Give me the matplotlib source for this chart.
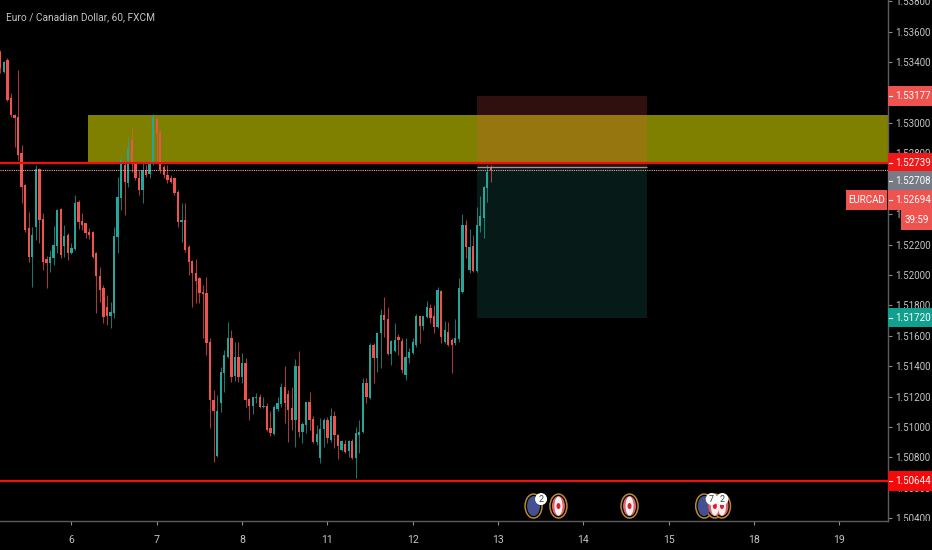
from matplotlib import pyplot as plt
from matplotlib.patches import Ellipse, Rectangle
from matplotlib.transforms import Bbox

plt.rcParams['font.family'] = ['Roboto', 'DejaVu Sans']

title = "Euro / Canadian Dollar, 60, FXCM"

opens = [
    1.53467, 1.53336, 1.53414, 1.53164, 1.53052, 1.53039, 1.52802, 1.52592, 1.52309, 1.52118,
    1.52315, 1.52697, 1.52368, 1.52105, 1.52079, 1.52112, 1.52191, 1.52434, 1.52191, 1.52263,
    1.52144, 1.52171, 1.52480, 1.52349, 1.52342, 1.52283, 1.52283, 1.52144, 1.51993, 1.51914,
    1.51789, 1.51730, 1.51750, 1.52250, 1.52507, 1.52723, 1.52605, 1.52888, 1.52737, 1.52638,
    1.52559, 1.52691, 1.52664, 1.52737, 1.53026, 1.52941, 1.52710, 1.52658, 1.52638, 1.52632,
    1.52546, 1.52349, 1.52362, 1.52184, 1.52092, 1.52013, 1.51974, 1.51888, 1.51881, 1.51559,
    1.51177, 1.50809, 1.51158, 1.51355, 1.51460, 1.51585, 1.51335, 1.51460, 1.51329, 1.51421,
    1.51184, 1.51138, 1.51190, 1.51197, 1.51131, 1.51138, 1.50993, 1.50953, 1.51118, 1.51151,
    1.51263, 1.51217, 1.51125, 1.51046, 1.51401, 1.50967, 1.51013, 1.51164, 1.51052, 1.50901,
    1.50796, 1.50987, 1.51046, 1.50914, 1.51072, 1.50947, 1.50848, 1.50888, 1.50842, 1.50908,
    1.50796, 1.50947, 1.50967, 1.51289, 1.51190, 1.51539, 1.51454, 1.51618, 1.51737, 1.51710,
    1.51480, 1.51499, 1.51592, 1.51566, 1.51342, 1.51454, 1.51486, 1.51539, 1.51724, 1.51664,
    1.51724, 1.51783, 1.51724, 1.51658, 1.51895, 1.51559, 1.51625, 1.51572, 1.51552, 1.51579,
    1.51888, 1.52329, 1.52033, 1.52191, 1.52026, 1.52322, 1.52375, 1.52572, 1.52708,
]
highs = [
    1.53480, 1.53408, 1.53427, 1.53197, 1.53059, 1.53349, 1.52855, 1.52599, 1.52414, 1.52315,
    1.52723, 1.52704, 1.52408, 1.52125, 1.52164, 1.52322, 1.52434, 1.52441, 1.52329, 1.52276,
    1.52210, 1.52526, 1.52493, 1.52408, 1.52342, 1.52309, 1.52289, 1.52151, 1.52052, 1.51934,
    1.51868, 1.51822, 1.52315, 1.52645, 1.52770, 1.52750, 1.52908, 1.52967, 1.52743, 1.52691,
    1.52737, 1.52723, 1.52756, 1.53059, 1.53033, 1.52954, 1.52723, 1.52723, 1.52658, 1.52645,
    1.52559, 1.52473, 1.52473, 1.52197, 1.52098, 1.52105, 1.51987, 1.51934, 1.51987, 1.51585,
    1.51243, 1.51210, 1.51395, 1.51506, 1.51691, 1.51638, 1.51559, 1.51559, 1.51486, 1.51454,
    1.51190, 1.51197, 1.51223, 1.51217, 1.51197, 1.51158, 1.51105, 1.51144, 1.51197, 1.51289,
    1.51401, 1.51243, 1.51263, 1.51447, 1.51499, 1.51033, 1.51164, 1.51230, 1.51072, 1.51013,
    1.51059, 1.51059, 1.51066, 1.51125, 1.51105, 1.50954, 1.50914, 1.50914, 1.50914, 1.50921,
    1.50999, 1.51046, 1.51322, 1.51322, 1.51552, 1.51552, 1.51625, 1.51776, 1.51855, 1.51789,
    1.51572, 1.51684, 1.51611, 1.51585, 1.51585, 1.51519, 1.51585, 1.51743, 1.51724, 1.51724,
    1.51829, 1.51809, 1.51802, 1.51921, 1.51901, 1.51697, 1.51691, 1.51585, 1.51711, 1.51980,
    1.52401, 1.52362, 1.52302, 1.52263, 1.52447, 1.52520, 1.52585, 1.52723, 1.52723,
]
lows = [
    1.53329, 1.53329, 1.53144, 1.53039, 1.52842, 1.52756, 1.52473, 1.52283, 1.52085, 1.51921,
    1.52230, 1.52210, 1.52033, 1.51914, 1.52019, 1.52066, 1.52144, 1.52112, 1.52118, 1.52098,
    1.52138, 1.52164, 1.52302, 1.52296, 1.52243, 1.52237, 1.52112, 1.51750, 1.51822, 1.51684,
    1.51671, 1.51651, 1.51717, 1.52144, 1.52427, 1.52395, 1.52579, 1.52677, 1.52625, 1.52526,
    1.52473, 1.52645, 1.52638, 1.52723, 1.52737, 1.52671, 1.52638, 1.52605, 1.52605, 1.52526,
    1.52315, 1.52217, 1.52151, 1.52000, 1.51789, 1.51816, 1.51816, 1.51585, 1.51473, 1.50993,
    1.50769, 1.50802, 1.51099, 1.51230, 1.51454, 1.51296, 1.51302, 1.51296, 1.51289, 1.51131,
    1.51046, 1.51085, 1.51158, 1.51125, 1.51125, 1.50974, 1.50940, 1.50947, 1.51105, 1.51131,
    1.51026, 1.50901, 1.50980, 1.50868, 1.50934, 1.50894, 1.50960, 1.50980, 1.50894, 1.50881,
    1.50763, 1.50868, 1.50894, 1.50901, 1.50861, 1.50789, 1.50842, 1.50829, 1.50802, 1.50789,
    1.50664, 1.50829, 1.50960, 1.51158, 1.51184, 1.51289, 1.51362, 1.51388, 1.51592, 1.51473,
    1.51408, 1.51493, 1.51473, 1.51355, 1.51309, 1.51421, 1.51480, 1.51526, 1.51552, 1.51638,
    1.51717, 1.51684, 1.51618, 1.51651, 1.51552, 1.51552, 1.51533, 1.51355, 1.51539, 1.51559,
    1.51881, 1.52112, 1.52013, 1.52019, 1.52019, 1.52283, 1.52243, 1.52480, 1.52612,
]
closes = [
    1.53361, 1.53401, 1.53151, 1.53052, 1.53033, 1.52789, 1.52579, 1.52296, 1.52118, 1.52263,
    1.52697, 1.52362, 1.52085, 1.52079, 1.52118, 1.52197, 1.52427, 1.52131, 1.52256, 1.52144,
    1.52177, 1.52473, 1.52349, 1.52329, 1.52276, 1.52263, 1.52118, 1.51993, 1.51901, 1.51724,
    1.51730, 1.51756, 1.52256, 1.52513, 1.52756, 1.52612, 1.52835, 1.52743, 1.52638, 1.52559,
    1.52691, 1.52658, 1.52737, 1.53039, 1.52934, 1.52691, 1.52658, 1.52625, 1.52612, 1.52539,
    1.52349, 1.52362, 1.52164, 1.52085, 1.52013, 1.51960, 1.51881, 1.51875, 1.51552, 1.51177,
    1.51105, 1.51099, 1.51362, 1.51473, 1.51585, 1.51329, 1.51460, 1.51329, 1.51421, 1.51177,
    1.51138, 1.51197, 1.51197, 1.51131, 1.51138, 1.50980, 1.50960, 1.51131, 1.51158, 1.51263,
    1.51158, 1.51111, 1.51046, 1.51401, 1.50967, 1.51020, 1.51164, 1.51046, 1.50901, 1.50953,
    1.50987, 1.51046, 1.50927, 1.51072, 1.50947, 1.50875, 1.50908, 1.50835, 1.50908, 1.50796,
    1.50960, 1.50967, 1.51289, 1.51197, 1.51539, 1.51454, 1.51618, 1.51737, 1.51704, 1.51480,
    1.51566, 1.51572, 1.51572, 1.51375, 1.51460, 1.51493, 1.51559, 1.51724, 1.51664, 1.51724,
    1.51789, 1.51717, 1.51658, 1.51901, 1.51592, 1.51638, 1.51539, 1.51539, 1.51585, 1.51914,
    1.52329, 1.52184, 1.52184, 1.52026, 1.52329, 1.52382, 1.52579, 1.52677, 1.52694,
]

day_bars = [20, 44, 68, 92, 116, 140, 164, 188, 212, 236]
day_labels = ["6", "7", "8", "11", "12", "13", "14", "15", "18", "19"]
price_ticks = [1.504, 1.506, 1.508, 1.51, 1.512, 1.514, 1.516, 1.518, 1.52, 1.522,
               1.524, 1.526, 1.528, 1.53, 1.532, 1.534, 1.536, 1.538]

zone_top = 1.5305
zone_bottom = 1.52739
zone_start = 24.7
support = 1.50644
entry = 1.52708
stop = 1.53177
target = 1.5172
last_price = 1.52694
position_start = 134
position_end = 182

event_bars = [150, 157, 177, 198, 201, 203]
event_kinds = ["eu", "ca", "ca", "eu", "ca", "ca"]
event_counts = [2, 0, 0, 7, 2, 0]
event_level = 1.5048

GREEN = "#26a69a"
RED = "#ef5350"
TEXT = "#c2c4c8"
LINE = "#5c5c5c"
LABEL_SIZE = 7.0

BAR_PX = 3.555
PRICE_PX = 15200.0

fig = plt.figure(figsize=(9.32, 5.5), dpi=100, facecolor="black")
ax = fig.add_axes([0, 29 / 550, 888 / 932, 521 / 550], facecolor="black")
ax.set_xlim(-0.084, 249.7)
ax.set_ylim(1.503816, 1.538092)

# zone and position boxes
ax.add_patch(Rectangle((zone_start, zone_bottom), 250 - zone_start, zone_top - zone_bottom,
                       fc="#808000", ec="none", zorder=1))
ax.add_patch(Rectangle((position_start, entry), position_end - position_start, stop - entry,
                       fc=RED, alpha=0.2, ec="none", zorder=1.2))
ax.add_patch(Rectangle((position_start, target), position_end - position_start, entry - target,
                       fc=GREEN, alpha=0.16, ec="none", zorder=1.2))

# candles
for i in range(len(opens)):
    color = GREEN if closes[i] >= opens[i] else RED
    ax.vlines(i, lows[i], highs[i], color=color, lw=0.75, alpha=0.7, zorder=2)
    ax.add_patch(Rectangle((i - 0.32, min(opens[i], closes[i])), 0.64, abs(closes[i] - opens[i]) + 0.00003,
                           fc=color, ec="none", zorder=2.1))

ax.hlines(entry, position_start, position_end, color="#9a9a9a", lw=0.9, zorder=3)
ax.axhline(last_price, color="#f0a8a0", lw=0.8, ls=(0, (1, 1)), zorder=3)
ax.axhline(zone_bottom, color="#f01010", lw=1.6, zorder=3.2)
ax.axhline(support, color="#f01010", lw=1.6, zorder=3.2)

# economic events
for bar, kind in zip(event_bars, event_kinds):
    ax.add_patch(Ellipse((bar, event_level), 17 / BAR_PX, 24 / PRICE_PX, fc="black", ec="#b8892e", lw=1.1, zorder=4))
    if kind == "eu":
        ax.add_patch(Ellipse((bar, event_level), 13 / BAR_PX, 20 / PRICE_PX, fc="#44508f", ec="none", zorder=4.1))
    else:
        ax.add_patch(Ellipse((bar, event_level), 13 / BAR_PX, 20 / PRICE_PX, fc="#e06070", ec="none", zorder=4.1))
        ax.add_patch(Ellipse((bar, event_level), 8 / BAR_PX, 19 / PRICE_PX, fc="#f6f0f0", ec="none", zorder=4.2))
        ax.add_patch(Ellipse((bar, event_level), 4 / BAR_PX, 6 / PRICE_PX, fc="#d8202c", ec="none", zorder=4.3))
for bar, count in zip(event_bars, event_counts):
    if count:
        bx = bar + 7.5 / BAR_PX
        by = event_level + 7 / PRICE_PX
        ax.add_patch(Ellipse((bx, by), 12 / BAR_PX, 12 / PRICE_PX, fc="white", ec="none", zorder=4.6))
        ax.text(bx, by, str(count), color="#304048", fontsize=6.5, ha="center", va="center", zorder=4.7)

# axes
for side in ["top", "left"]:
    ax.spines[side].set_visible(False)
for side in ["right", "bottom"]:
    ax.spines[side].set_color(LINE)
    ax.spines[side].set_linewidth(1.0)
ax.yaxis.tick_right()
ax.set_yticks(price_ticks)
ax.set_yticklabels(["%.5f" % p for p in price_ticks])
ax.set_xticks(day_bars)
ax.set_xticklabels(day_labels)
ax.tick_params(axis="y", labelcolor=TEXT, length=3, width=0.8, pad=2.2, labelsize=LABEL_SIZE, color="#909090")
ax.tick_params(axis="x", labelcolor=TEXT, length=3, width=0.8, pad=7, labelsize=7.6, color="#909090")
# the axis labels stop at the time axis line
clip = Bbox([[888, 29], [932, 550]])
for lab in ax.get_yticklabels():
    lab.set_clip_box(clip)
    lab.set_clip_on(True)

ax.text(6 / 888, 1 - 17 / 521, title, transform=ax.transAxes, color=TEXT, fontsize=7.3, va="center", ha="left")


def price_box(y_price, text, color, x0=888, x1=932, tick=True):
    trans = ax.get_yaxis_transform()
    h = 19.3 / PRICE_PX
    ax.add_patch(Rectangle((x0 / 888, y_price - h / 2), (x1 - x0) / 888, h, transform=trans,
                           fc=color, ec="none", clip_on=False, zorder=5))
    if tick:
        ax.plot([889 / 888, 892 / 888], [y_price, y_price], transform=trans, color="white", lw=0.8,
                clip_on=False, zorder=6)
        ax.text(895 / 888, y_price, text, transform=trans, color="white", fontsize=LABEL_SIZE, va="center", ha="left",
                zorder=6, clip_on=False)
    else:
        ax.text((x0 + x1) / 2 / 888, y_price, text, transform=trans, color="white", fontsize=LABEL_SIZE, va="center",
                ha="center", zorder=6, clip_on=False)


price_box(stop, "1.53177", RED)
price_box(zone_bottom, "1.52739", "#f01818")
price_box(1.52621, "1.52708", "#787b86")
price_box(1.52493, "1.52694", RED)
price_box(1.52493, "EURCAD", RED, x0=846, x1=887, tick=False)
price_box(1.52362, "39:59", RED, x0=901, x1=932, tick=False)
price_box(target, "1.51720", "#12a08e")
price_box(support, "1.50644", "#f40a0a")

plt.savefig("out.png", dpi=100, facecolor="black")
